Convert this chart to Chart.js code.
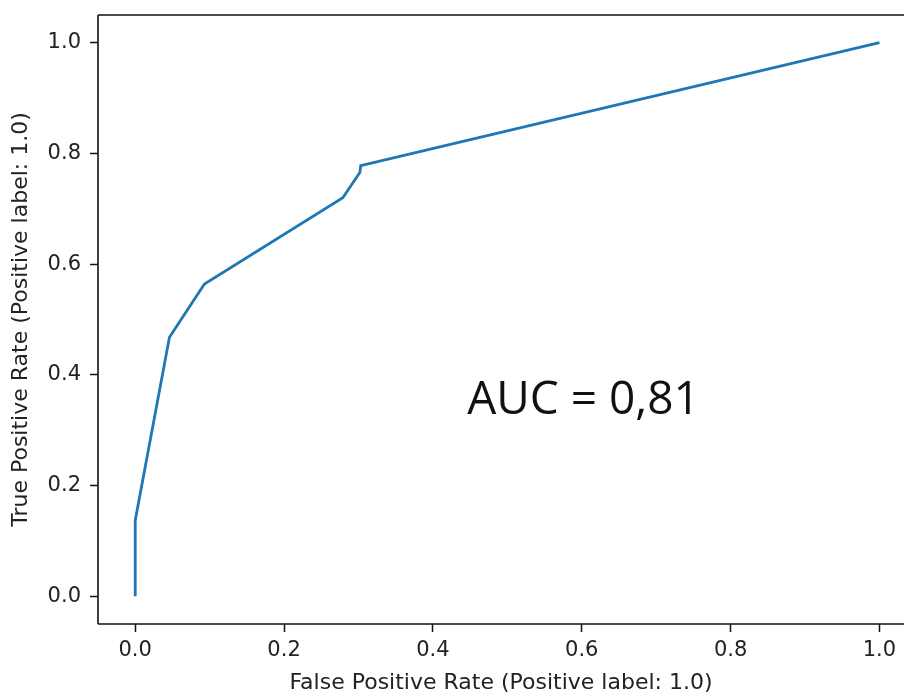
<!DOCTYPE html>
<html>
<head>
<meta charset="utf-8">
<script src="https://cdn.jsdelivr.net/npm/chart.js@4/dist/chart.umd.min.js"></script>
<style>
  html, body { margin: 0; padding: 0; background: #ffffff; overflow: hidden; }
  #wrap { width: 904px; height: 693px; position: relative; }
</style>
</head>
<body>
<div id="wrap"><canvas id="roc"></canvas></div>
<script>
// ROC curve points
const fprValues = [0, 0, 0.046, 0.093, 0.279, 0.302, 0.303, 1.0];
const tprValues = [0, 0.137, 0.468, 0.564, 0.720, 0.766, 0.778, 1.0];

// axis ticks
const xTickValues = [0.0, 0.2, 0.4, 0.6, 0.8, 1.0];
const yTickValues = [0.0, 0.2, 0.4, 0.6, 0.8, 1.0];

const aucText = 'AUC = 0,81';
const aucPosition = { x: 0.446, y: 0.33 };

const tickFont = { family: '"DejaVu Sans"', size: 21 };
const titleFont = { family: '"DejaVu Sans"', size: 22, lineHeight: 0.87 };
const textColor = '#222222';
const spineColor = '#111111';

// left, top and bottom spines
const framePlugin = {
  id: 'frame',
  afterDatasetsDraw(chart) {
    const { ctx, chartArea: a } = chart;
    ctx.save();
    ctx.strokeStyle = spineColor;
    ctx.lineWidth = 1.6;
    ctx.beginPath();
    ctx.moveTo(a.left, a.top);
    ctx.lineTo(a.right + 4, a.top);
    ctx.moveTo(a.left, a.top);
    ctx.lineTo(a.left, a.bottom);
    ctx.moveTo(a.left, a.bottom);
    ctx.lineTo(a.right + 4, a.bottom);
    ctx.stroke();
    ctx.restore();
  }
};

// AUC annotation inside the plot
const aucPlugin = {
  id: 'aucLabel',
  afterDraw(chart) {
    const { ctx, scales } = chart;
    const px = scales.x.getPixelForValue(aucPosition.x);
    const py = scales.y.getPixelForValue(aucPosition.y);
    ctx.save();
    ctx.font = '46px "Open Sans"';
    ctx.fillStyle = '#111111';
    ctx.textAlign = 'left';
    ctx.textBaseline = 'alphabetic';
    ctx.fillText(aucText, px, py);
    ctx.restore();
  }
};

// fixed scale boxes, no extra label overhang padding
function fixBox(scale, size) {
  if (scale.isHorizontal()) scale.height = size; else scale.width = size;
  scale.paddingTop = 0;
  scale.paddingBottom = 0;
  scale.paddingLeft = 0;
  scale.paddingRight = 0;
}

const points = fprValues.map((x, i) => ({ x, y: tprValues[i] }));

new Chart(document.getElementById('roc'), {
  type: 'line',
  data: {
    datasets: [{
      data: points,
      borderColor: '#1f77b4',
      borderWidth: 2.8,
      pointRadius: 0,
      tension: 0,
      fill: false
    }]
  },
  options: {
    responsive: true,
    maintainAspectRatio: false,
    devicePixelRatio: 1,
    animation: false,
    events: [],
    layout: { padding: { left: 0, top: 15, right: 0, bottom: 0 } },
    plugins: { legend: { display: false }, tooltip: { enabled: false } },
    scales: {
      x: {
        type: 'linear',
        min: -0.05,
        max: 1.033,
        afterBuildTicks(scale) { scale.ticks = xTickValues.map(v => ({ value: v })); },
        afterFit(scale) { fixBox(scale, 69); },
        border: { display: false },
        grid: { drawOnChartArea: false, drawTicks: true, tickLength: 8, tickColor: spineColor, tickWidth: 1.5 },
        ticks: {
          font: tickFont, color: textColor, padding: 6, maxRotation: 0, autoSkip: false,
          callback: v => Number(v).toFixed(1)
        },
        title: {
          display: true,
          text: 'False Positive Rate (Positive label: 1.0)',
          font: titleFont,
          color: textColor,
          padding: { top: 0, bottom: 0 }
        }
      },
      y: {
        type: 'linear',
        min: -0.05,
        max: 1.05,
        afterBuildTicks(scale) { scale.ticks = yTickValues.map(v => ({ value: v })); },
        afterFit(scale) { fixBox(scale, 98); },
        border: { display: false },
        grid: { drawOnChartArea: false, drawTicks: true, tickLength: 8, tickColor: spineColor, tickWidth: 1.5 },
        ticks: {
          font: tickFont, color: textColor, padding: 9, autoSkip: false,
          callback: v => Number(v).toFixed(1)
        },
        title: {
          display: true,
          text: 'True Positive Rate (Positive label: 1.0)',
          font: titleFont,
          color: textColor,
          padding: { top: 12, bottom: 0 }
        }
      }
    }
  },
  plugins: [framePlugin, aucPlugin]
});
</script>
</body>
</html>
